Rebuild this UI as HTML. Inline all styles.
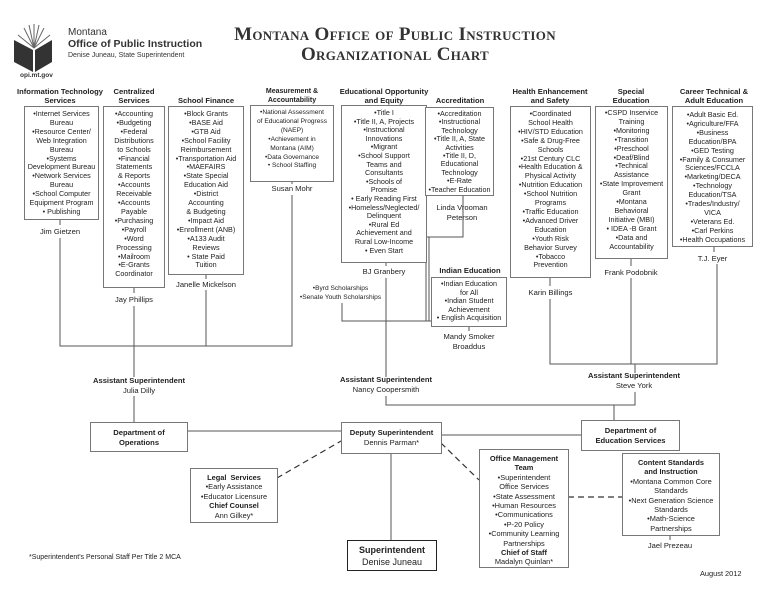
<!DOCTYPE html>
<html><head><meta charset="utf-8"><style>
body{margin:0;width:776px;height:600px;background:#fff;position:relative;overflow:hidden;font-family:"Liberation Sans",sans-serif;color:#222}
.a{position:absolute}
.h{position:absolute;font-weight:bold;font-size:7.6px;line-height:9px;text-align:center;white-space:nowrap}
.b{position:absolute;border:1px solid #777;box-sizing:border-box;font-size:7.2px;line-height:8.9px;text-align:center;padding-top:3px;background:#fff;white-space:nowrap;overflow:hidden}
.n{position:absolute;font-size:7.6px;line-height:10px;text-align:center;white-space:nowrap}
.t{position:absolute;font-family:"Liberation Serif",serif;font-weight:bold;font-variant:small-caps;font-size:19px;letter-spacing:0.3px;text-align:center;color:#333;white-space:nowrap}
</style></head><body>
<svg class="a" style="left:0;top:0" width="776" height="600">
<g stroke="#555" stroke-width="1" fill="none">
<!-- left group -->
<polyline points="60,238 60,346 292,346 292,195"/>
<line x1="206" y1="290" x2="206" y2="346"/>
<line x1="134" y1="306" x2="134" y2="377"/>
<line x1="134" y1="396" x2="134" y2="422"/>
<!-- middle -->
<line x1="386" y1="278" x2="386" y2="377"/>
<polyline points="463,195 463,237 426,237 426,321"/>
<polyline points="342,303 342,321 431,321"/>
<line x1="429" y1="237" x2="429" y2="321"/>
<line x1="469" y1="326" x2="469" y2="331"/>
<!-- right -->
<polyline points="550,299 550,364 717,364 717,264"/>
<line x1="631" y1="278" x2="631" y2="364"/>
<line x1="635" y1="364" x2="635" y2="373"/>
<polyline points="635,392 635,405 386,405 386,396"/>
<line x1="614" y1="405" x2="614" y2="420"/>
<line x1="550" y1="277" x2="550" y2="286"/>
<line x1="631" y1="258" x2="631" y2="266"/>
<line x1="714" y1="246" x2="714" y2="252"/>
<line x1="60" y1="219" x2="60" y2="225"/>
<line x1="134" y1="287" x2="134" y2="293"/>
<line x1="206" y1="274" x2="206" y2="279"/>
<line x1="292" y1="181" x2="292" y2="184"/>
<line x1="386" y1="262" x2="386" y2="266"/>
<!-- bottom -->
<line x1="187" y1="431" x2="341" y2="431"/>
<line x1="441" y1="435" x2="581" y2="435"/>
<line x1="391" y1="453" x2="391" y2="540"/>
<line x1="670" y1="535" x2="670" y2="540"/>
</g>
<g stroke="#333" stroke-width="1.2" fill="none" stroke-dasharray="6,4">
<line x1="277" y1="478" x2="341" y2="441"/>
<line x1="441" y1="443" x2="479" y2="480"/>
<line x1="568" y1="497" x2="622" y2="497"/>
</g>
<!-- logo -->
<g fill="#333">
<polygon points="14,40 33,50 33,72 14,62"/>
<polygon points="52,40 35,50 35,72 52,62"/>
</g>
<g stroke="#666" stroke-width="1">
<line x1="34" y1="48" x2="34" y2="24"/><line x1="34" y1="48" x2="24" y2="28"/><line x1="34" y1="48" x2="44" y2="28"/>
<line x1="34" y1="48" x2="18" y2="35"/><line x1="34" y1="48" x2="50" y2="35"/><line x1="34" y1="48" x2="29" y2="25"/><line x1="34" y1="48" x2="39" y2="25"/>
</g>
</svg>
<div class="a" style="left:68px;top:27px;font-size:10px;color:#333">Montana</div>
<div class="a" style="left:68px;top:38px;font-size:10.5px;font-weight:bold;color:#333">Office of Public Instruction</div>
<div class="a" style="left:68px;top:52px;font-size:7px;color:#333">Denise Juneau, State Superintendent</div>
<div class="a" style="left:20px;top:72px;font-size:6.5px;font-weight:bold;color:#333">opi.mt.gov</div>
<div class="t" style="left:210px;width:370px;top:24px">Montana Office of Public Instruction</div>
<div class="t" style="left:210px;width:370px;top:44px">Organizational Chart</div>

<div class="h" style="left:0;width:120px;top:87px">Information Technology<br>Services</div>
<div class="b" style="left:24px;width:75px;top:106px;height:114px">•Internet Services<br>Bureau<br>•Resource Center/<br>Web Integration<br>Bureau<br>•Systems<br>Development Bureau<br>•Network Services<br>Bureau<br>•School Computer<br>Equipment Program<br>• Publishing</div>
<div class="n" style="left:10px;width:100px;top:227px">Jim Gietzen</div>

<div class="h" style="left:100px;width:68px;top:87px">Centralized<br>Services</div>
<div class="b" style="left:103px;width:62px;top:106px;height:182px">•Accounting<br>•Budgeting<br>•Federal<br>Distributions<br>to Schools<br>•Financial<br>Statements<br>&amp; Reports<br>•Accounts<br>Receivable<br>•Accounts<br>Payable<br>•Purchasing<br>•Payroll<br>•Word<br>Processing<br>•Mailroom<br>•E-Grants<br>Coordinator</div>
<div class="n" style="left:94px;width:80px;top:295px">Jay Phillips</div>

<div class="h" style="left:165px;width:82px;top:96px">School Finance</div>
<div class="b" style="left:168px;width:76px;top:106px;height:169px">•Block Grants<br>•BASE Aid<br>•GTB Aid<br>•School Facility<br>Reimbursement<br>•Transportation Aid<br>•MAEFAIRS<br>•State Special<br>Education Aid<br>•District<br>Accounting<br>&amp; Budgeting<br>•Impact Aid<br>•Enrollment (ANB)<br>•A133 Audit<br>Reviews<br>• State Paid<br>Tuition</div>
<div class="n" style="left:160px;width:92px;top:280px">Janelle Mickelson</div>

<div class="h" style="left:250px;width:84px;top:87px;font-size:7px">Measurement &amp;<br>Accountability</div>
<div class="b" style="left:250px;width:84px;top:105px;height:77px;font-size:6.6px">•National Assessment<br>of Educational Progress<br>(NAEP)<br>•Achievement in<br>Montana (AIM)<br>•Data Governance<br>• School Staffing</div>
<div class="n" style="left:252px;width:80px;top:184px">Susan Mohr</div>

<div class="h" style="left:334px;width:100px;top:87px">Educational Opportunity<br>and Equity</div>
<div class="b" style="left:341px;width:86px;top:105px;height:158px;line-height:8.6px">•Title I<br>•Title II, A, Projects<br>•Instructional<br>Innovations<br>•Migrant<br>•School Support<br>Teams and<br>Consultants<br>•Schools of<br>Promise<br>• Early Reading First<br>•Homeless/Neglected/<br>Delinquent<br>•Rural Ed<br>Achievement and<br>Rural Low-Income<br>• Even Start</div>
<div class="n" style="left:341px;width:86px;top:267px">BJ Granbery</div>

<div class="h" style="left:425px;width:70px;top:96px">Accreditation</div>
<div class="b" style="left:425px;width:69px;top:107px;height:89px;line-height:8.4px;padding-top:2px">•Accreditation<br>•Instructional<br>Technology<br>•Title II, A, State<br>Activities<br>•Title II, D,<br>Educational<br>Technology<br>•E-Rate<br>•Teacher Education</div>
<div class="n" style="left:420px;width:84px;top:203px">Linda Vrooman<br>Peterson</div>

<div class="h" style="left:430px;width:80px;top:266px">Indian Education</div>
<div class="b" style="left:431px;width:76px;top:277px;height:50px;line-height:8.6px;padding-top:2px">•Indian Education<br>for All<br>•Indian Student<br>Achievement<br>• English Acquisition</div>
<div class="n" style="left:425px;width:88px;top:332px">Mandy Smoker<br>Broaddus</div>
<div class="a" style="left:298px;top:284px;font-size:6.6px;line-height:9px;text-align:center;width:85px;white-space:nowrap">•Byrd Scholarships<br>•Senate Youth Scholarships</div>

<div class="h" style="left:505px;width:90px;top:87px">Health Enhancement<br>and Safety</div>
<div class="b" style="left:510px;width:81px;top:106px;height:172px">•Coordinated<br>School Health<br>•HIV/STD Education<br>•Safe &amp; Drug-Free<br>Schools<br>•21st Century CLC<br>•Health Education &amp;<br>Physical Activity<br>•Nutrition Education<br>•School Nutrition<br>Programs<br>•Traffic Education<br>•Advanced Driver<br>Education<br>•Youth Risk<br>Behavior Survey<br>•Tobacco<br>Prevention</div>
<div class="n" style="left:510px;width:81px;top:288px">Karin Billings</div>

<div class="h" style="left:595px;width:72px;top:87px">Special<br>Education</div>
<div class="b" style="left:595px;width:73px;top:106px;height:153px;padding-top:2px">•CSPD Inservice<br>Training<br>•Monitoring<br>•Transition<br>•Preschool<br>•Deaf/Blind<br>•Technical<br>Assistance<br>•State Improvement<br>Grant<br>•Montana<br>Behavioral<br>Initiative (MBI)<br>• IDEA -B Grant<br>•Data and<br>Accountability</div>
<div class="n" style="left:591px;width:80px;top:268px">Frank Podobnik</div>

<div class="h" style="left:668px;width:92px;top:87px">Career Technical &amp;<br>Adult Education</div>
<div class="b" style="left:672px;width:81px;top:106px;height:141px;padding-top:4px">•Adult Basic Ed.<br>•Agriculture/FFA<br>•Business<br>Education/BPA<br>•GED Testing<br>•Family &amp; Consumer<br>Sciences/FCCLA<br>•Marketing/DECA<br>•Technology<br>Education/TSA<br>•Trades/Industry/<br>VICA<br>•Veterans Ed.<br>•Carl Perkins<br>•Health Occupations</div>
<div class="n" style="left:672px;width:81px;top:254px">T.J. Eyer</div>

<div class="n" style="left:80px;width:118px;top:376px"><b>Assistant Superintendent</b><br>Julia Dilly</div>
<div class="n" style="left:327px;width:118px;top:375px"><b>Assistant Superintendent</b><br>Nancy Coopersmith</div>
<div class="n" style="left:575px;width:118px;top:371px"><b>Assistant Superintendent</b><br>Steve York</div>

<div class="b" style="left:90px;width:98px;top:422px;height:30px;font-weight:bold;font-size:7.6px;line-height:9.5px;padding-top:5px">Department of<br>Operations</div>
<div class="b" style="left:341px;width:101px;top:422px;height:32px;font-size:7.6px;line-height:9.5px;padding-top:5px"><b>Deputy Superintendent</b><br>Dennis Parman*</div>
<div class="b" style="left:581px;width:99px;top:420px;height:31px;font-weight:bold;font-size:7.6px;line-height:9.5px;padding-top:5px">Department of<br>Education Services</div>

<div class="b" style="left:190px;width:88px;top:468px;height:55px;font-size:7.4px;line-height:9.4px;padding-top:4px"><b>Legal &nbsp;Services</b><br>•Early Assistance<br>•Educator Licensure<br><b>Chief Counsel</b><br>Ann Gilkey*</div>
<div class="b" style="left:479px;width:90px;top:449px;height:119px;font-size:7.4px;line-height:9.4px;padding-top:4px"><b>Office Management<br>Team</b><br>•Superintendent<br>Office Services<br>•State Assessment<br>•Human Resources<br>•Communications<br>•P-20 Policy<br>•Community Learning<br>Partnerships<br><b>Chief of Staff</b><br>Madalyn Quinlan*</div>
<div class="b" style="left:622px;width:98px;top:453px;height:83px;font-size:7.4px;line-height:9.4px;padding-top:4px"><b>Content Standards<br>and Instruction</b><br>•Montana Common Core<br>Standards<br>•Next Generation Science<br>Standards<br>•Math-Science<br>Partnerships</div>
<div class="n" style="left:630px;width:80px;top:541px">Jael Prezeau</div>

<div class="b" style="left:347px;width:90px;top:540px;height:31px;border:1.5px solid #222;font-size:9px;line-height:12px;padding-top:3px"><b>Superintendent</b><br>Denise Juneau</div>
<div class="a" style="left:29px;top:554px;font-size:7px">*Superintendent's Personal Staff Per Title 2 MCA</div>
<div class="a" style="left:700px;top:569px;font-size:7.4px">August 2012</div>
</body></html>
